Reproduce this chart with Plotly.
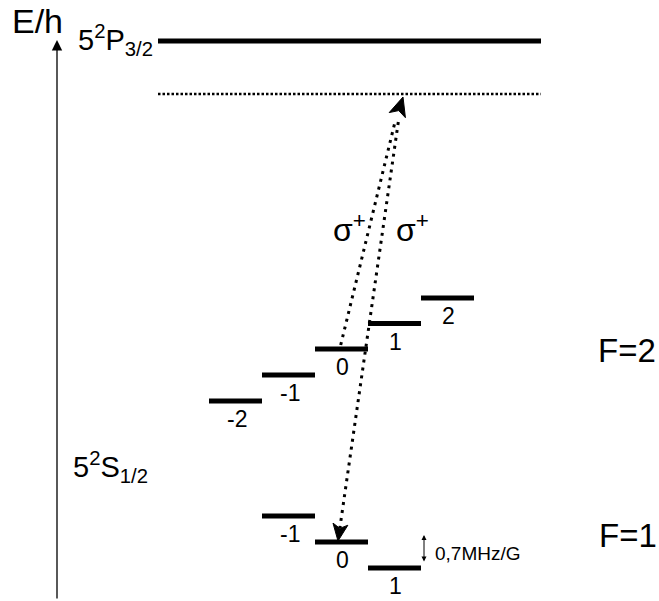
import numpy as np
import plotly.graph_objects as go

# ---- data (energies in arbitrary units) ----
P_E = 560          # 5^2P_3/2 level
VIRT_E = 507       # virtual (detuned) level
F2_m = [-2, -1, 0, 1, 2]
F2_E = [200, 226, 252, 277.5, 303]
F1_m = [-1, 0, 1]
F1_E = [85, 59, 33]
# sigma+ transitions: (x0, E0) -> (x1, E1)
trans_up = [(340.7, 256), (395.0, 479)]
trans_down = [(398.3, 479), (338.0, 60)]
labels_sigma = ["σ<sup>+</sup>", "σ<sup>+</sup>"]
shift_text = "0,7MHz/G"

FONT = "Liberation Sans, Arial, sans-serif"
W, H = 659, 601
X0, LW = 315, 53   # m=0 left edge, sublevel width

fig = go.Figure()

def level_x(m):
    return X0 + LW * m, X0 + LW * (m + 1)

# main P line and virtual level
fig.add_trace(go.Scatter(x=[158, 541], y=[P_E, P_E], mode="lines",
                         line=dict(color="black", width=5), hoverinfo="skip"))
fig.add_trace(go.Scatter(x=[158, 541], y=[VIRT_E, VIRT_E], mode="lines",
                         line=dict(color="black", width=2.5, dash="2.5px,2px"), hoverinfo="skip"))

# Zeeman sublevels
xs, ys = [], []
for m, e in list(zip(F2_m, F2_E)) + list(zip(F1_m, F1_E)):
    a, b = level_x(m)
    xs += [a, b, None]
    ys += [e, e, None]
fig.add_trace(go.Scatter(x=xs, y=ys, mode="lines",
                         line=dict(color="black", width=5), hoverinfo="skip"))

annotations = []
for m, e in list(zip(F2_m, F2_E)) + list(zip(F1_m, F1_E)):
    a, b = level_x(m)
    annotations.append(dict(x=(a + b) / 2 + 1, y=e, yshift=-18, text=str(m), showarrow=False,
                            font=dict(size=23, family=FONT, color="black"),
                            xanchor="center", yanchor="middle"))

def arrowhead(tip, frm, L, hw):
    t = np.array(tip, float)
    d = t - np.array(frm, float)
    d /= np.linalg.norm(d)
    n = np.array([-d[1], d[0]])
    base = t - L * d
    notch = t - 0.75 * L * d
    p1 = base + hw * n
    p2 = base - hw * n
    return [t[0], p1[0], notch[0], p2[0], t[0]], [t[1], p1[1], notch[1], p2[1], t[1]]

# dotted transitions
(ux0, uy0), (ux1, uy1) = trans_up
(dx0, dy0), (dx1, dy1) = trans_down
dvec = np.array([dx1 - dx0, dy1 - dy0]); dlen = np.linalg.norm(dvec); du = dvec / dlen
d_end = np.array([dx1, dy1]) - 13 * du
fig.add_trace(go.Scatter(x=[ux0, ux1], y=[uy0, uy1], mode="lines",
                         line=dict(color="black", width=3, dash="3px,5px"), hoverinfo="skip"))
fig.add_trace(go.Scatter(x=[dx0, d_end[0]], y=[dy0, d_end[1]], mode="lines",
                         line=dict(color="black", width=3, dash="3px,5px"), hoverinfo="skip"))

# top arrowhead (at the virtual level)
top_tip = (403, VIRT_E - 3)
ax_, ay_ = arrowhead(top_tip, (397.5, VIRT_E - 20.5), 19, 8.5)
fig.add_trace(go.Scatter(x=ax_, y=ay_, mode="lines", fill="toself", fillcolor="black",
                         line=dict(color="black", width=1), hoverinfo="skip"))
# bottom arrowhead
bx_, by_ = arrowhead((dx1, dy1), (dx0, dy0), 17, 7.5)
fig.add_trace(go.Scatter(x=bx_, y=by_, mode="lines", fill="toself", fillcolor="black",
                         line=dict(color="black", width=1), hoverinfo="skip"))

# energy axis arrow
annotations.append(dict(x=57, y=561, ax=57, ay=1, axref="x", ayref="y", xref="x", yref="y",
                        text="", showarrow=True, arrowhead=2, arrowsize=1.6,
                        arrowwidth=1.3, arrowcolor="black"))
# double arrow for Zeeman shift
annotations.append(dict(x=424, y=66, ax=424, ay=38, axref="x", ayref="y",
                        text="", showarrow=True, arrowhead=2, arrowside="end+start",
                        arrowsize=1, arrowwidth=1, arrowcolor="black", startarrowhead=2,
                        startarrowsize=1))

def txt(x, y, s, size, xanchor="left"):
    annotations.append(dict(x=x, y=y, text=s, showarrow=False, xanchor=xanchor,
                            yanchor="middle", font=dict(size=size, family=FONT, color="black")))

txt(37, 580, "E/h", 34, "center")
txt(76, 561, "5<sup>2</sup>P<sub>3/2</sub>", 29)
txt(71, 134, "5<sup>2</sup>S<sub>1/2</sub>", 29)
txt(658, 251, "F=2", 33, "right")
txt(659, 66, "F=1", 33, "right")
txt(331, 373, labels_sigma[0], 32)
txt(394, 373, labels_sigma[1], 32)
txt(433, 48, shift_text, 19)

fig.update_layout(
    width=W, height=H, margin=dict(l=0, r=0, t=0, b=0),
    paper_bgcolor="white", plot_bgcolor="white", showlegend=False,
    xaxis=dict(range=[0, W], visible=False, fixedrange=True),
    yaxis=dict(range=[0, H], visible=False, fixedrange=True),
    annotations=annotations,
)
fig.write_html("out.html")
